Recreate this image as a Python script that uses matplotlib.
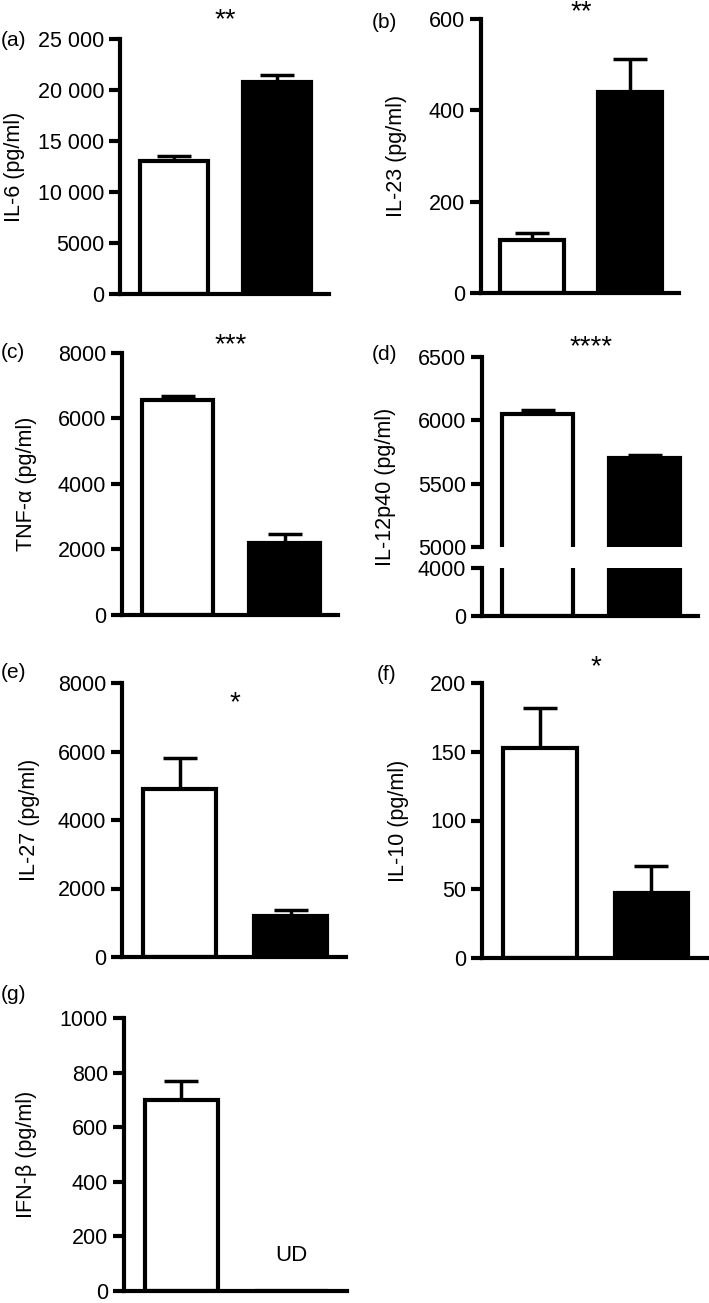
import numpy as np
import matplotlib
matplotlib.use('Agg')
import matplotlib.pyplot as plt

plt.rcParams['font.family'] = ['Liberation Sans', 'DejaVu Sans']

# values (white = control, black = treated)
panels = ['(a)', '(b)', '(c)', '(d)', '(e)', '(f)', '(g)']
ylabels = ['IL-6 (pg/ml)', 'IL-23 (pg/ml)', 'TNF-\u03b1 (pg/ml)', 'IL-12p40 (pg/ml)',
           'IL-27 (pg/ml)', 'IL-10 (pg/ml)', 'IFN-\u03b2 (pg/ml)']
white_mean = [13000, 115, 6550, 6050, 4900, 153, 700]
white_err = [500, 17, 150, 30, 900, 29, 70]
black_mean = [20800, 440, 2200, 5700, 1200, 47, 0]
black_err = [700, 72, 280, 30, 180, 20, 0]
stars = ['**', '**', '***', '****', '*', '*', '']
yticks = [[0, 5000, 10000, 15000, 20000, 25000],
          [0, 200, 400, 600],
          [0, 2000, 4000, 6000, 8000],
          [5000, 5500, 6000, 6500],
          [0, 2000, 4000, 6000, 8000],
          [0, 50, 100, 150, 200],
          [0, 200, 400, 600, 800, 1000]]
yticklabels = [['0', '5000', '10 000', '15 000', '20 000', '25 000'],
               ['0', '200', '400', '600'],
               ['0', '2000', '4000', '6000', '8000'],
               ['5000', '5500', '6000', '6500'],
               ['0', '2000', '4000', '6000', '8000'],
               ['0', '50', '100', '150', '200'],
               ['0', '200', '400', '600', '800', '1000']]
# broken axis lower part for (d)
d_low_ticks = [0, 4000]

W, H = 709, 1303
fig = plt.figure(figsize=(W / 100, H / 100), dpi=100)

def rect(left, top, width, bottom):
    return [left / W, 1 - bottom / H, width / W, (bottom - top) / H]

# axes boxes in pixels: left, top, width, bottom
boxes = [(120, 39, 209, 294), (481, 19, 198, 293), (122, 353, 216, 615),
         (482, 357, 216, 547), (122, 683, 224, 957), (482, 683, 225, 958),
         (124, 1018, 223, 1291)]
label_x = [25, 407, 37, 396, 40, 409, 37]
letter_pos = [(1, 41), (372, 22), (1, 352), (372, 354), (1, 672), (377, 674), (1, 994)]
star_y = [1.075, 1.026, 1.03, 1.053, 0.927, 1.058]

FS = 15.5
LW = 3.0
x = np.array([0, 1])
bw = 0.66

def style(ax, bottom=True):
    ax.set_xlim(-0.52, 1.5)
    for s in ['top', 'right']:
        ax.spines[s].set_visible(False)
    ax.spines['left'].set_linewidth(LW)
    ax.spines['bottom'].set_linewidth(LW)
    ax.spines['bottom'].set_visible(bottom)
    ax.set_xticks([])
    ax.tick_params(axis='y', length=8, width=LW, labelsize=FS, pad=3.5)

def draw_bars(ax, i):
    ax.bar(x, [white_mean[i], black_mean[i]], width=bw, color=['white', 'black'],
           edgecolor='black', linewidth=LW, zorder=2)
    ax.errorbar(x, [white_mean[i], black_mean[i]],
                yerr=[[0, 0], [white_err[i], black_err[i]]], fmt='none',
                ecolor='black', elinewidth=2.5, capsize=12, capthick=2.5, zorder=1)

for i in range(7):
    l, t, w, b = boxes[i]
    ax = fig.add_axes(rect(l, t, w, b))
    if i == 3:
        style(ax, bottom=False)
        ax.set_ylim(5000, 6500)
    else:
        style(ax)
        ax.set_ylim(yticks[i][0], yticks[i][-1])
    draw_bars(ax, i)
    ax.set_yticks(yticks[i])
    ax.set_yticklabels(yticklabels[i])
    ax.set_ylabel(ylabels[i], fontsize=FS)
    if i == 3:
        # centre the label on the whole broken axis (357..616 px)
        ax.yaxis.set_label_coords((label_x[i] - l) / w, (b - (357 + 616) / 2) / (b - t))
    else:
        ax.yaxis.set_label_coords((label_x[i] - l) / w, 0.5)
    if stars[i]:
        ax.text(0.5, star_y[i], stars[i], transform=ax.get_xaxis_transform(),
                ha='center', va='center', fontsize=20)
    fig.text(letter_pos[i][0] / W, 1 - letter_pos[i][1] / H, panels[i],
             ha='left', va='center', fontsize=15)
    if i == 3:
        ax2 = fig.add_axes(rect(482, 568, 216, 616))
        style(ax2)
        ax2.set_ylim(0, 4000)
        draw_bars(ax2, i)
        ax2.set_yticks(d_low_ticks)
        ax2.set_yticklabels([str(v) for v in d_low_ticks])
    if i == 6:
        ax.text(1, 130, 'UD', ha='center', va='center', fontsize=16)

fig.savefig('out.png', dpi=100)
